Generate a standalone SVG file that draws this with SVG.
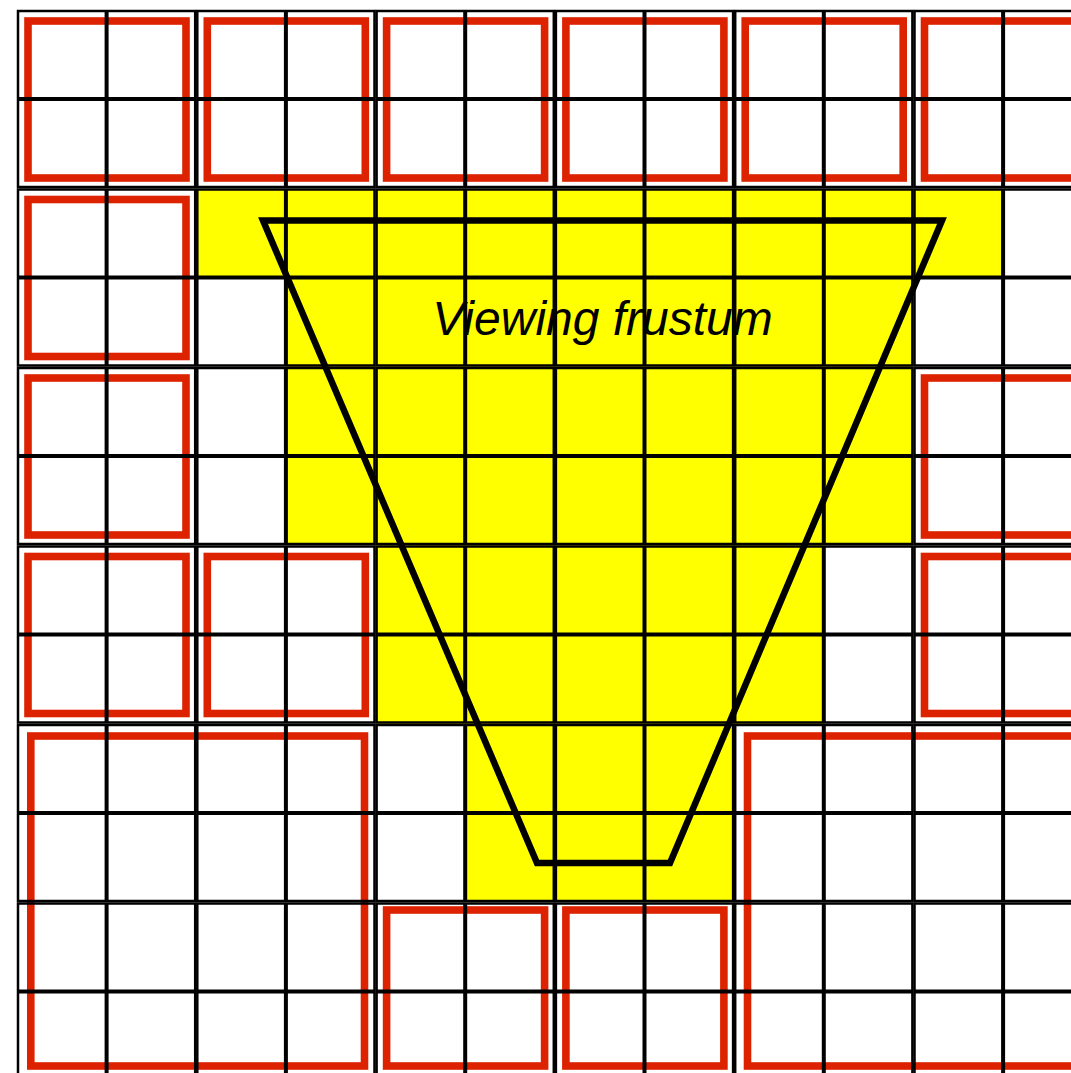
<svg xmlns="http://www.w3.org/2000/svg" width="1071" height="1073" viewBox="0 0 1071 1073">
<style>
.b{fill:none;stroke:#000;stroke-width:2.5}
.i{stroke:#000;stroke-width:4}
.r{fill:none;stroke:#dd2200;stroke-width:7.6}
.y{fill:#ffff00;stroke:none}
.f{fill:none;stroke:#000;stroke-width:6.5;stroke-linejoin:miter}
.t{font-family:"Liberation Sans",Arial,sans-serif;font-style:italic;font-size:48px;fill:#000}
</style>
<defs>
<g id="blk">
<rect x="0" y="0" width="177.2" height="176" class="b"/>
<line x1="88.6" y1="0" x2="88.6" y2="176" class="i"/>
<line x1="0" y1="88" x2="177.2" y2="88" class="i"/>
</g>
</defs>
<rect x="0" y="0" width="1071" height="1073" fill="#fff"/>
<g id="visible-region">
<polygon class="y" points="197.3,189.5 1003.1,189.5 1003.1,277.5 912.4,277.5 912.4,545 823.8,545 823.8,724 733.1,724 733.1,901 465.2,901 465.2,724 376.6,724 376.6,545 285.9,545 285.9,277.5 197.3,277.5"/>
</g>
<g id="culled-boxes">
<rect class="r" x="28" y="21" width="158" height="157"/>
<rect class="r" x="207.3" y="21" width="158" height="157"/>
<rect class="r" x="386.6" y="21" width="158" height="157"/>
<rect class="r" x="565.9" y="21" width="158" height="157"/>
<rect class="r" x="745.2" y="21" width="158" height="157"/>
<rect class="r" x="924.5" y="21" width="158" height="157"/>
<rect class="r" x="28" y="199.5" width="158" height="157"/>
<rect class="r" x="28" y="378" width="158" height="157"/>
<rect class="r" x="924.5" y="378" width="158" height="157"/>
<rect class="r" x="28" y="556.5" width="158" height="157"/>
<rect class="r" x="207.3" y="556.5" width="158" height="157"/>
<rect class="r" x="924.5" y="556.5" width="158" height="157"/>
<rect class="r" x="30.8" y="736" width="333.7" height="330"/>
<rect class="r" x="747.5" y="736" width="333.7" height="330"/>
<rect class="r" x="386.6" y="910" width="158" height="156"/>
<rect class="r" x="565.9" y="910" width="158" height="156"/>
</g>
<g id="grid">
<use href="#blk" x="18" y="11"/><use href="#blk" x="197.3" y="11"/><use href="#blk" x="376.6" y="11"/><use href="#blk" x="555.9" y="11"/><use href="#blk" x="735.2" y="11"/><use href="#blk" x="914.5" y="11"/>
<use href="#blk" x="18" y="189.5"/><use href="#blk" x="197.3" y="189.5"/><use href="#blk" x="376.6" y="189.5"/><use href="#blk" x="555.9" y="189.5"/><use href="#blk" x="735.2" y="189.5"/><use href="#blk" x="914.5" y="189.5"/>
<use href="#blk" x="18" y="368"/><use href="#blk" x="197.3" y="368"/><use href="#blk" x="376.6" y="368"/><use href="#blk" x="555.9" y="368"/><use href="#blk" x="735.2" y="368"/><use href="#blk" x="914.5" y="368"/>
<use href="#blk" x="18" y="546.5"/><use href="#blk" x="197.3" y="546.5"/><use href="#blk" x="376.6" y="546.5"/><use href="#blk" x="555.9" y="546.5"/><use href="#blk" x="735.2" y="546.5"/><use href="#blk" x="914.5" y="546.5"/>
<use href="#blk" x="18" y="725"/><use href="#blk" x="197.3" y="725"/><use href="#blk" x="376.6" y="725"/><use href="#blk" x="555.9" y="725"/><use href="#blk" x="735.2" y="725"/><use href="#blk" x="914.5" y="725"/>
<use href="#blk" x="18" y="903.5"/><use href="#blk" x="197.3" y="903.5"/><use href="#blk" x="376.6" y="903.5"/><use href="#blk" x="555.9" y="903.5"/><use href="#blk" x="735.2" y="903.5"/><use href="#blk" x="914.5" y="903.5"/>
</g>
<g id="frustum">
<polygon class="f" points="263,220.5 942,220.5 670,863 537,863"/>
</g>
<g id="label">
<text class="t" x="602.5" y="335" text-anchor="middle">Viewing frustum</text>
</g>
</svg>
